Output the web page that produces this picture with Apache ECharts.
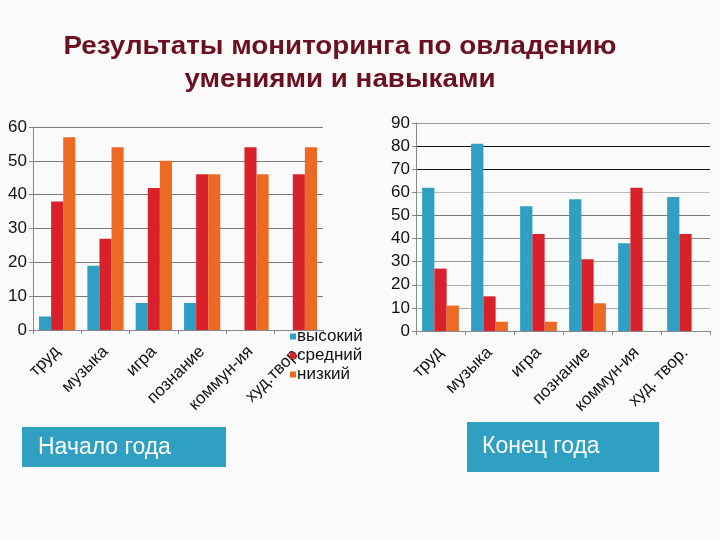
<!DOCTYPE html>
<html>
<head>
<meta charset="utf-8">
<script src="https://cdn.jsdelivr.net/npm/echarts@6/dist/echarts.min.js"></script>
<style>html,body{margin:0;padding:0;background:#fafafa;}#c{width:720px;height:540px;}</style>
</head>
<body>
<div id="c"></div>
<script>
const categoriesStart = ['труд', 'музыка', 'игра', 'познание', 'коммун-ия', 'худ.твор.'];
const categoriesEnd = ['труд', 'музыка', 'игра', 'познание', 'коммун-ия', 'худ. твор.'];
const seriesNames = ['высокий', 'средний', 'низкий'];
const startHigh = [4, 19, 8, 8, 0, 0];
const startMid = [38, 27, 42, 46, 54, 46];
const startLow = [57, 54, 50, 46, 46, 54];
const endHigh = [62, 81, 54, 57, 38, 58];
const endMid = [27, 15, 42, 31, 62, 42];
const endLow = [11, 4, 4, 12, 0, 0];
const startTicks = {min: 0, max: 60, interval: 10};
const endTicks = {min: 0, max: 90, interval: 10};
const titleText = 'Результаты мониторинга по овладению\nумениями и навыками';
const labelStart = 'Начало года';
const labelEnd = 'Конец года';

const colors = ['#2fa0c2', '#d8212b', '#ec6a24'];
const FONT = "'Liberation Sans', Arial, sans-serif";

const chart = echarts.init(document.getElementById('c'), null, {renderer: 'canvas'});

function xAxis(gridIndex, cats) {
  return {
    type: 'category', gridIndex: gridIndex, data: cats,
    axisLine: {show: true, lineStyle: {color: '#888', width: 1}},
    axisTick: {show: true, length: 4, lineStyle: {color: '#888'}},
    axisLabel: {rotate: 45, fontSize: 17, color: '#111', fontFamily: FONT, margin: 19, interval: 0}
  };
}
function yAxis(gridIndex, t, splitColors) {
  return {
    type: 'value', gridIndex: gridIndex, min: t.min, max: t.max, interval: t.interval,
    axisLine: {show: true, lineStyle: {color: '#888', width: 1}},
    axisTick: {show: true, length: 4, lineStyle: {color: '#888'}},
    axisLabel: {fontSize: 17, color: '#111', fontFamily: FONT, margin: 6},
    splitLine: {show: true, lineStyle: {color: splitColors, width: 1}}
  };
}
function bar(name, data, xi, color) {
  return {
    name: name, type: 'bar', xAxisIndex: xi, yAxisIndex: xi, data: data,
    barGap: '0%', barCategoryGap: '25%',
    itemStyle: {color: color}, animation: false
  };
}

chart.setOption({
  backgroundColor: '#fafafa',
  animation: false,
  grid: [
    {left: 33, top: 127, width: 290, height: 203},
    {left: 416, top: 123, width: 294, height: 208}
  ],
  xAxis: [xAxis(0, categoriesStart), xAxis(1, categoriesEnd)],
  yAxis: [
    yAxis(0, startTicks, '#7a7a7a'),
    yAxis(1, endTicks, ['#888', '#aaa', '#aaa', '#999', '#888', '#777', '#bbb', '#111', '#111', '#999'])
  ],
  legend: {
    orient: 'vertical', left: 285, top: 323,
    itemWidth: 6, itemHeight: 6, itemGap: 2,
    icon: 'rect',
    data: seriesNames,
    textStyle: {fontSize: 17, color: '#111', fontFamily: FONT, padding: [0, 0, 0, -4]}
  },
  series: [
    bar(seriesNames[0], startHigh, 0, colors[0]),
    bar(seriesNames[1], startMid, 0, colors[1]),
    bar(seriesNames[2], startLow, 0, colors[2]),
    bar(seriesNames[0], endHigh, 1, colors[0]),
    bar(seriesNames[1], endMid, 1, colors[1]),
    bar(seriesNames[2], endLow, 1, colors[2])
  ],
  graphic: [
    {type: 'text', x: 340, y: 31, scaleX: 1.11,
     style: {text: titleText, font: "bold 25px " + FONT, fill: '#6b1020', textAlign: 'center', lineHeight: 33}},
    {type: 'rect', shape: {x: 22, y: 427, width: 204, height: 40}, style: {fill: '#2fa0c2'}},
    {type: 'text', x: 38, y: 448, style: {text: labelStart, font: "23px " + FONT, fill: '#ffffff', textVerticalAlign: 'middle'}},
    {type: 'rect', shape: {x: 467, y: 422, width: 192, height: 50}, style: {fill: '#2fa0c2'}},
    {type: 'text', x: 482, y: 447, style: {text: labelEnd, font: "23px " + FONT, fill: '#ffffff', textVerticalAlign: 'middle'}}
  ]
});
</script>
</body>
</html>
